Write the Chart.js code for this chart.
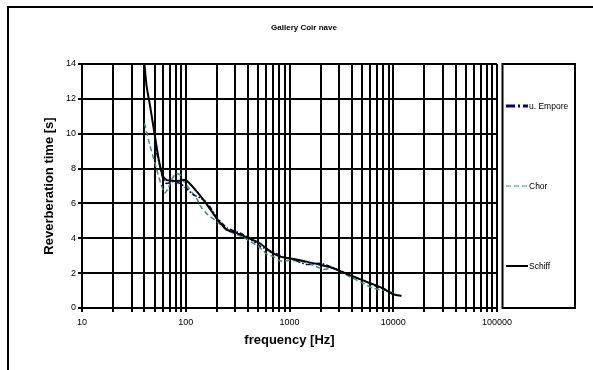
<!DOCTYPE html>
<html><head><meta charset="utf-8">
<script src="https://cdn.jsdelivr.net/npm/chart.js@4"></script>
<style>html,body{margin:0;padding:0;background:#fff}canvas{display:block}</style>
</head><body>
<canvas id="c" width="593" height="370"></canvas>
<script>
const chartTitle = 'Gallery Coir nave';
const xTitle = 'frequency [Hz]';
const yTitle = 'Reverberation time [s]';
const seriesNames = ['u. Empore', 'Chor', 'Schiff'];

const freqEmpore = [50, 53, 56, 60, 65, 76, 88, 98, 118, 140, 160, 200, 250, 333, 400, 520, 700, 870, 1000, 1460, 2000, 2650, 3800, 5500, 6950, 8000];
const valEmpore  = [9.5, 8.8, 8.2, 7.45, 7.15, 7.25, 7.15, 6.95, 6.5, 6.3, 6.05, 5.2, 4.6, 4.3, 4.05, 3.55, 3.2, 2.94, 2.85, 2.5, 2.57, 2.3, 1.9, 1.5, 1.22, 1.1];

const freqChor = [40, 45, 50, 58, 63, 68, 73, 80, 88, 95, 106, 127, 140, 160, 200, 250, 360, 520, 600, 700, 810, 1000, 1250, 1600, 2140, 2650, 3800, 5000, 6400, 8600, 10000];
const valChor  = [10.6, 9.35, 8.4, 7.06, 6.6, 6.9, 7.35, 7.7, 7.65, 7.3, 6.9, 6.3, 5.8, 5.4, 4.95, 4.45, 4.05, 3.45, 3.1, 2.95, 2.7, 2.72, 2.72, 2.5, 2.22, 2.28, 1.8, 1.45, 1.13, 1.0, 0.85];

const freqSchiff = [40, 42, 45, 50, 55, 60, 65, 73, 88, 100, 125, 155, 185, 210, 250, 290, 390, 520, 650, 810, 1000, 1460, 2000, 2650, 3800, 5500, 8000, 10000, 12000];
const valSchiff  = [14.0, 12.7, 11.7, 10.0, 8.5, 7.6, 7.35, 7.3, 7.3, 7.35, 6.75, 6.05, 5.4, 4.95, 4.48, 4.35, 4.05, 3.7, 3.25, 2.95, 2.85, 2.66, 2.47, 2.28, 1.89, 1.51, 1.13, 0.79, 0.69];

const xDecades = [10, 100, 1000, 10000];
const xMultipliers = [1, 2, 3, 4, 5, 6, 7, 8, 9];
const xMin = 10, xMax = 100000;
const yMin = 0, yMax = 14, yStep = 2;

const xTickValues = [];
xDecades.forEach(d => xMultipliers.forEach(m => xTickValues.push(d * m)));
xTickValues.push(xMax);
const xLabelValues = [10, 100, 1000, 10000, 100000];

const toPts = (f, v) => f.map((x, i) => ({x: x, y: v[i]}));
const FONT = "'Liberation Sans', Arial, sans-serif";

const legendStyles = [
  {color: '#000080', width: 3, dash: [9, 3, 2, 3]},
  {color: '#339966', width: 1, dash: [5, 3]},
  {color: '#000000', width: 2, dash: []}
];

const decoPlugin = {
  id: 'deco',
  afterDraw(chart) {
    const ctx = chart.ctx;
    ctx.save();
    ctx.strokeStyle = '#000';
    ctx.lineWidth = 2;
    ctx.beginPath();
    ctx.moveTo(8, 370); ctx.lineTo(8, 7); ctx.lineTo(593, 7);
    ctx.stroke();
    ctx.fillStyle = '#000';
    ctx.font = 'bold 8px ' + FONT;
    ctx.textAlign = 'center';
    ctx.textBaseline = 'middle';
    ctx.fillText(chartTitle, 304, 28);
    ctx.lineWidth = 2;
    ctx.strokeRect(502.5, 64, 72.5, 244);
    const ys = [106, 186, 266];
    ctx.font = '8.5px ' + FONT;
    ctx.textAlign = 'left';
    seriesNames.forEach((n, i) => {
      const s = legendStyles[i];
      ctx.beginPath();
      ctx.setLineDash(s.dash);
      ctx.strokeStyle = s.color;
      ctx.lineWidth = s.width;
      ctx.moveTo(506, ys[i]); ctx.lineTo(528, ys[i]);
      ctx.stroke();
      ctx.setLineDash([]);
      ctx.fillStyle = '#000';
      ctx.fillText(n, 529, ys[i] + 0.5);
    });
    ctx.restore();
  }
};

new Chart(document.getElementById('c'), {
  type: 'scatter',
  data: {
    datasets: [
      {label: seriesNames[0], data: toPts(freqEmpore, valEmpore), showLine: true, pointRadius: 0,
       borderColor: '#000080', borderWidth: 1.5, borderDash: [5, 2, 1.5, 2], tension: 0.2, order: 1},
      {label: seriesNames[1], data: toPts(freqChor, valChor), showLine: true, pointRadius: 0,
       borderColor: '#339966', borderWidth: 1.5, borderDash: [5, 3], tension: 0.2, order: 2},
      {label: seriesNames[2], data: toPts(freqSchiff, valSchiff), showLine: true, pointRadius: 0,
       borderColor: '#000000', borderWidth: 2, tension: 0.2, order: 0}
    ]
  },
  options: {
    responsive: false,
    animation: false,
    devicePixelRatio: 1,
    layout: {padding: {top: 64, right: 96, left: 0, bottom: 0}},
    plugins: {legend: {display: false}, title: {display: false}, tooltip: {enabled: false}},
    scales: {
      x: {
        type: 'logarithmic', min: xMin, max: xMax,
        afterFit(s) { s.height = 62; },
        afterBuildTicks(s) { s.ticks = xTickValues.map(v => ({value: v})); },
        ticks: {
          autoSkip: false, maxRotation: 0, padding: 5,
          color: '#000', font: {family: FONT, size: 9},
          callback: (v) => xLabelValues.includes(v) ? String(v) : ''
        },
        grid: {color: '#000', lineWidth: 2, tickLength: 4, drawTicks: true},
        border: {color: '#000', width: 2},
        title: {display: true, text: xTitle, color: '#000', font: {family: FONT, size: 13, weight: 'bold'}, padding: {top: 0, bottom: 22}}
      },
      y: {
        min: yMin, max: yMax,
        afterFit(s) { s.width = 82; },
        ticks: {stepSize: yStep, padding: 2, color: '#000', font: {family: FONT, size: 9}},
        grid: {color: '#000', lineWidth: 2, tickLength: 4},
        border: {color: '#000', width: 2},
        title: {display: true, text: yTitle, color: '#000', font: {family: FONT, size: 13, weight: 'bold'}, padding: {top: 42, bottom: 0}}
      }
    }
  },
  plugins: [decoPlugin]
});
</script>
</body></html>
